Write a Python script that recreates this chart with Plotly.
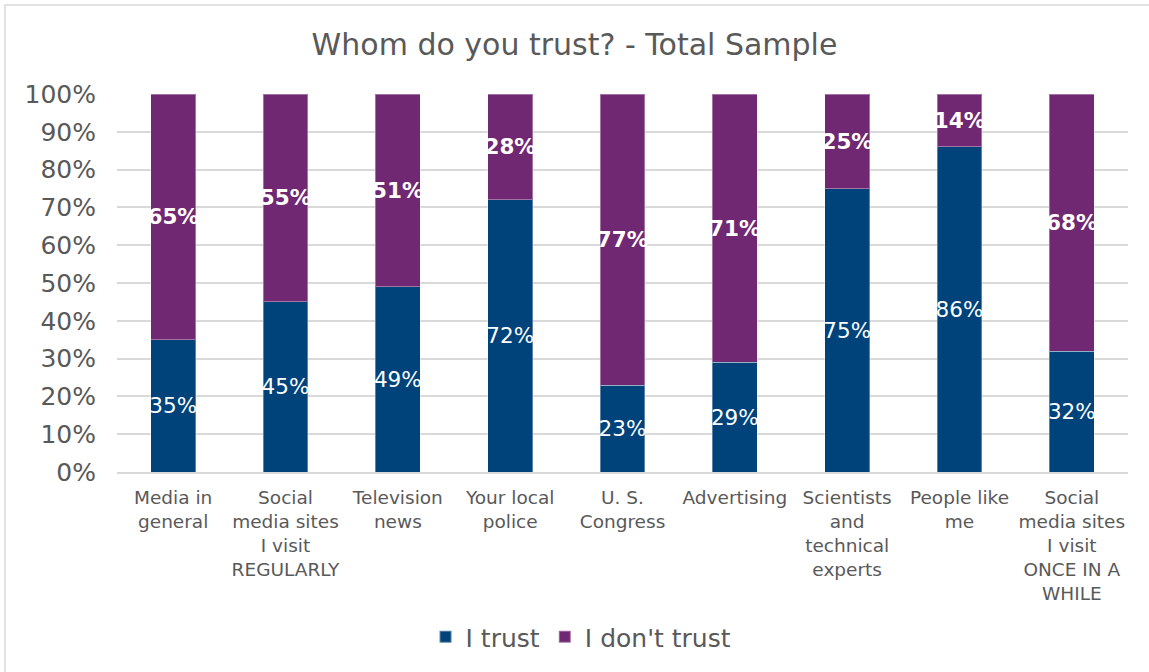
import plotly.graph_objects as go

categories = [
    "Media in<br>general",
    "Social<br>media sites<br>I visit<br>REGULARLY",
    "Television<br>news",
    "Your local<br>police",
    "U. S.<br>Congress",
    "Advertising",
    "Scientists<br>and<br>technical<br>experts",
    "People like<br>me",
    "Social<br>media sites<br>I visit<br>ONCE IN A<br>WHILE",
]
trust = [35, 45, 49, 72, 23, 29, 75, 86, 32]
dont_trust = [65, 55, 51, 28, 77, 71, 25, 14, 68]

BLUE = "rgb(0,67,122)"
PURPLE = "rgb(112,40,115)"
GREY = "#595959"
FONT = "DejaVu Sans, Verdana, sans-serif"

# plot-area geometry in pixels, used to place the outer frame in paper units
W, H = 1149, 672
L, R, T, B = 117, 21, 94, 200
pw, ph = W - L - R, H - T - B

fig = go.Figure()
fig.add_trace(go.Bar(
    x=categories, y=[v / 100 for v in trust], name="I trust",
    marker=dict(color=BLUE, line=dict(color="rgba(255,255,255,0.35)", width=1)),
    text=[f"{v}%" for v in trust], textposition="inside",
    insidetextanchor="middle", textangle=0,
    textfont=dict(family=FONT, size=21.5, color="white"),
))
fig.add_trace(go.Bar(
    x=categories, y=[v / 100 for v in dont_trust], name="I don't trust",
    marker=dict(color=PURPLE, line=dict(color="rgba(255,255,255,0.35)", width=1)),
    text=[f"<b>{v}%</b>" for v in dont_trust], textposition="inside",
    insidetextanchor="middle", textangle=0,
    textfont=dict(family=FONT, size=21.5, color="white"),
))

fig.update_layout(
    barmode="stack", bargap=0.6,
    width=W, height=H,
    margin=dict(l=L, r=R, t=T, b=B),
    paper_bgcolor="white", plot_bgcolor="white",
    font=dict(family=FONT, color=GREY),
    uniformtext=dict(minsize=21.5, mode="show"),
    title=dict(text="Whom do you trust? - Total Sample",
               font=dict(family=FONT, size=30, color=GREY),
               x=0.5, xanchor="center", y=1 - 44 / H, yanchor="middle"),
    legend=dict(orientation="h", x=0.459, xanchor="center",
                y=-(637 - (T + ph)) / ph, yanchor="middle",
                font=dict(family=FONT, size=25, color=GREY),
                itemsizing="constant", traceorder="normal"),
    showlegend=True,
)
fig.update_yaxes(range=[0, 1], tickvals=[i / 10 for i in range(11)],
                 tickformat=".0%", showgrid=True, gridcolor="#D9D9D9",
                 gridwidth=1.5, zeroline=False, showline=False,
                 ticklabelstandoff=20,
                 tickfont=dict(family=FONT, size=25, color=GREY))
fig.update_xaxes(showline=True, linecolor="#D9D9D9", linewidth=1.5,
                 tickfont=dict(family=FONT, size=18.5, color=GREY),
                 ticks="", tickangle=0, ticklabelstandoff=8)

# light frame around the whole chart
fig.add_shape(type="rect", xref="paper", yref="paper",
              x0=(5 - L) / pw, x1=(W + 5 - L) / pw,
              y0=-(H + 5 - T - ph) / ph, y1=(T + ph - 5) / ph,
              line=dict(color="#D9D9D9", width=1.5), fillcolor="rgba(0,0,0,0)",
              layer="below")

fig.write_html("out.html")
